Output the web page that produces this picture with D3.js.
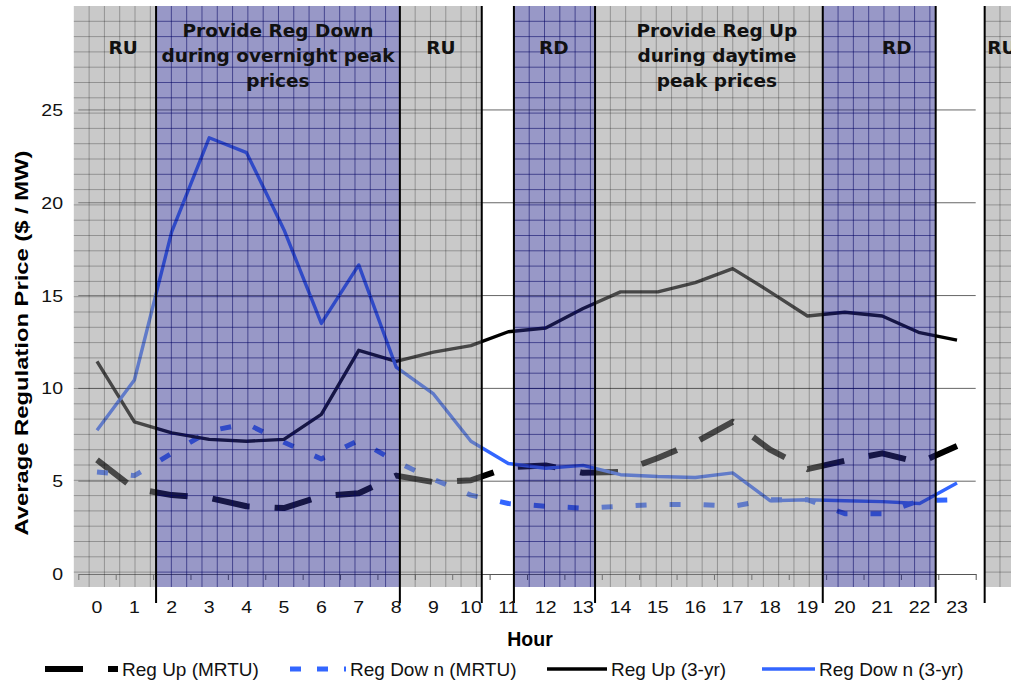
<!DOCTYPE html>
<html>
<head>
<meta charset="utf-8">
<script src="https://cdn.jsdelivr.net/npm/d3@7"></script>
<style>
  body { margin: 0; background: #fff; }
  text { font-family: "Liberation Sans", Arial, sans-serif; }
</style>
</head>
<body>
<svg id="chart" width="1011" height="685"></svg>
<script>

// hourly average regulation prices ($/MW)
var hours = [0, 1, 2, 3, 4, 5, 6, 7, 8, 9, 10, 11, 12, 13, 14, 15, 16, 17, 18, 19, 20, 21, 22, 23];
var regUpMRTU = [6.15, 4.6, 4.25, 4.1, 3.65, 3.55, 4.2, 4.35, 5.3, 4.95, 5.05, 5.75, 5.85, 5.45, 5.5, 6.25, 7.1, 8.2, 6.7, 5.65, 6.1, 6.5, 6.0, 6.9];
var regDownMRTU = [5.5, 5.3, 6.5, 7.7, 8.1, 7.1, 6.2, 7.2, 6.05, 5.1, 4.25, 3.8, 3.65, 3.55, 3.65, 3.75, 3.75, 3.65, 4.0, 4.0, 3.25, 3.25, 3.95, 4.0];
var regUp3yr = [11.45, 8.2, 7.6, 7.25, 7.15, 7.25, 8.6, 12.05, 11.45, 11.95, 12.3, 13.05, 13.25, 14.3, 15.2, 15.2, 15.7, 16.45, 15.2, 13.9, 14.1, 13.9, 13.0, 12.6];
var regDown3yr = [7.75, 10.45, 18.45, 23.5, 22.7, 18.55, 13.5, 16.65, 11.15, 9.7, 7.15, 5.95, 5.7, 5.85, 5.35, 5.25, 5.2, 5.45, 3.95, 4.0, 3.95, 3.9, 3.8, 4.9];
var yTicks = [0, 5, 10, 15, 20, 25];

// strategy bands behind the lines, in hour units
var bandStart = [-0.62, 1.58, 8.1, 11.15, 13.32, 19.41, 23.74];
var bandEnd = [1.58, 8.1, 10.29, 13.32, 19.41, 22.43, 24.5];
var bandKind = ["RU", "RD", "RU", "RD", "RU", "RD", "RU"];
var bandText = [["RU"], ["Provide Reg Down", "during overnight peak", "prices"], ["RU"], ["RD"],
                ["Provide Reg Up", "during daytime", "peak prices"], ["RD"], ["RU"]];
var bandTextAt = [0.7, 4.84, 9.2, 12.22, 16.58, 21.39, 24.2];
var dividers = [1.58, 8.1, 10.29, 11.15, 13.32, 19.41, 22.43, 23.74];

var series = [
    {name: "Reg Up (MRTU)", values: regUpMRTU, color: "#000", width: 6, dash: "38,25", legendDash: "38,25"},
    {name: "Reg Dow n (MRTU)", values: regDownMRTU, color: "#3366ff", width: 5, dash: "11,23", legendDash: "11,16"},
    {name: "Reg Up (3-yr)", values: regUp3yr, color: "#000", width: 3.4, dash: null, legendDash: null},
    {name: "Reg Dow n (3-yr)", values: regDown3yr, color: "#3366ff", width: 3.4, dash: null, legendDash: null}
];

var svg = d3.select("#chart");

var x = d3.scaleLinear().domain([-0.5, 23.5]).range([78.3, 975.7]);
var y = d3.scaleLinear().domain([0, 30.6]).range([574, 6]);
var bandTop = y(30.6);
var bandBottom = 587;
var cell = 15.3;

// major gridlines
svg.append("g")
    .selectAll("line")
    .data(yTicks.slice(1))
    .enter().append("line")
    .attr("x1", x(-0.5)).attr("x2", x(23.5))
    .attr("y1", function (d) { return y(d); })
    .attr("y2", function (d) { return y(d); })
    .attr("stroke", "#666")
    .attr("stroke-width", 1);

// category axis, ticks between hours
var edges = hours.map(function (h) { return h - 0.5; }).concat([23.5]);
var xAxis = svg.append("g")
    .attr("transform", "translate(0," + y(0) + ")")
    .call(d3.axisBottom(x).tickValues(edges).tickFormat("").tickSizeInner(6).tickSizeOuter(0));
xAxis.select(".domain").attr("stroke", "#555");
xAxis.selectAll(".tick line").attr("stroke", "#555");

// data lines
var line = d3.line()
    .x(function (d, i) { return x(hours[i]); })
    .y(function (d) { return y(d); });

svg.append("g")
    .selectAll("path")
    .data(series)
    .enter().append("path")
    .attr("d", function (d) { return line(d.values); })
    .attr("fill", "none")
    .attr("stroke", function (d) { return d.color; })
    .attr("stroke-width", function (d) { return d.width; })
    .attr("stroke-dasharray", function (d) { return d.dash; })
    .attr("stroke-linejoin", "round");

// translucent bands drawn over the lines
var bands = svg.append("g");

bandKind.forEach(function (k, i) {
    var x0 = x(bandStart[i]), x1 = Math.min(x(bandEnd[i]), 1011);
    var g = bands.append("g");
    g.append("rect")
        .attr("x", x0).attr("y", bandTop)
        .attr("width", x1 - x0).attr("height", bandBottom - bandTop)
        .attr("fill", k === "RD" ? "#2d2d8c" : "#919191")
        .attr("fill-opacity", 0.49);

    var gridColor = k === "RD" ? "#000060" : "#000";
    var gridOpacity = k === "RD" ? 0.55 : 0.27;
    g.selectAll(".v")
        .data(d3.range(x0 + cell, x1, cell))
        .enter().append("line")
        .attr("x1", function (d) { return d; }).attr("x2", function (d) { return d; })
        .attr("y1", bandTop).attr("y2", bandBottom)
        .attr("stroke", gridColor).attr("stroke-opacity", gridOpacity);
    g.selectAll(".h")
        .data(d3.range(bandTop + cell, bandBottom, cell))
        .enter().append("line")
        .attr("x1", x0).attr("x2", x1)
        .attr("y1", function (d) { return d; }).attr("y2", function (d) { return d; })
        .attr("stroke", gridColor).attr("stroke-opacity", gridOpacity);
});

// band dividers
svg.append("g")
    .selectAll("line")
    .data(dividers)
    .enter().append("line")
    .attr("x1", function (d) { return x(d); })
    .attr("x2", function (d) { return x(d); })
    .attr("y1", bandTop).attr("y2", 603)
    .attr("stroke", "#000")
    .attr("stroke-width", 2);

// band captions
bandText.forEach(function (lines, i) {
    var first = lines.length > 1 ? 37 : 54;
    var t = svg.append("text")
        .attr("x", x(bandTextAt[i]))
        .attr("text-anchor", "middle")
        .style("font-family", "'DejaVu Sans', Verdana, sans-serif")
        .style("font-weight", "bold")
        .style("font-size", "18.5px")
        .attr("fill", "#111");
    lines.forEach(function (s, j) {
        t.append("tspan")
            .attr("x", x(bandTextAt[i]))
            .attr("y", first + j * 25)
            .text(s);
    });
});

// tick labels
svg.append("g")
    .selectAll("text")
    .data(hours)
    .enter().append("text")
    .attr("transform", function (d) { return "translate(" + x(d) + ",613) scale(1.22,1)"; })
    .attr("text-anchor", "middle")
    .style("font-size", "16px")
    .attr("fill", "#111")
    .text(function (d) { return d; });

svg.append("g")
    .selectAll("text")
    .data(yTicks)
    .enter().append("text")
    .attr("transform", function (d) { return "translate(63," + (y(d) + 6) + ") scale(1.22,1)"; })
    .attr("text-anchor", "end")
    .style("font-size", "16px")
    .attr("fill", "#111")
    .text(function (d) { return d; });

// axis titles
svg.append("text")
    .attr("transform", "translate(28,343) rotate(-90)")
    .attr("text-anchor", "middle")
    .style("font-weight", "bold")
    .style("font-size", "18px")
    .attr("textLength", 385)
    .attr("lengthAdjust", "spacingAndGlyphs")
    .text("Average Regulation Price ($ / MW)");

svg.append("text")
    .attr("x", 530).attr("y", 646)
    .attr("text-anchor", "middle")
    .style("font-weight", "bold")
    .style("font-size", "19.5px")
    .text("Hour");

// legend
var legendX = [45, 290, 547, 762];
var legendLen = [73, 56, 60, 53];
var legend = svg.append("g").attr("transform", "translate(0,669)");
series.forEach(function (s, i) {
    legend.append("line")
        .attr("x1", legendX[i]).attr("x2", legendX[i] + legendLen[i])
        .attr("y1", 0).attr("y2", 0)
        .attr("stroke", s.color)
        .attr("stroke-width", s.width)
        .attr("stroke-dasharray", s.legendDash);
    legend.append("text")
        .attr("x", legendX[i] + legendLen[i] + 4)
        .attr("y", 6.5)
        .style("font-size", "19px")
        .attr("fill", "#111")
        .text(s.name);
});
</script>
</body>
</html>
